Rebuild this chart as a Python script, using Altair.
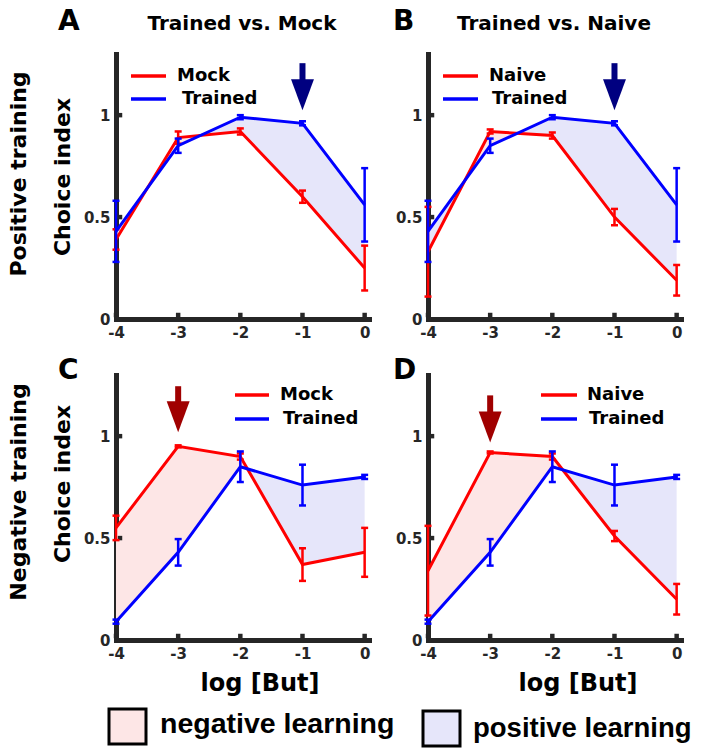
import altair as alt
import pandas as pd

# ---------------- data ----------------
X = [-4, -3, -2, -1, 0]

# Positive training
mock_pos = [0.39, 0.89, 0.92, 0.60, 0.25]
mock_pos_err = [0.05, 0.03, 0.015, 0.03, 0.11]
naive_pos = [0.33, 0.92, 0.90, 0.50, 0.19]
naive_pos_err = [0.22, 0.01, 0.015, 0.04, 0.075]
trained_pos = [0.43, 0.85, 0.99, 0.96, 0.56]
trained_pos_err = [0.15, 0.035, 0.01, 0.01, 0.18]

# Negative training
mock_neg = [0.55, 0.95, 0.90, 0.37, 0.43]
mock_neg_err = [0.06, 0.005, 0.015, 0.08, 0.12]
naive_neg = [0.34, 0.92, 0.90, 0.51, 0.20]
naive_neg_err = [0.22, 0.005, 0.015, 0.025, 0.075]
trained_neg = [0.09, 0.43, 0.85, 0.76, 0.80]
trained_neg_err = [0.01, 0.065, 0.075, 0.10, 0.01]

# arrows (x position, head centre, shaft top) per panel A, B, C, D
arrow_x = [-1, -1, -3, -3]
arrow_head = [1.10, 1.10, 1.095, 1.045]
arrow_top = [1.255, 1.255, 1.245, 1.20]

y_ticks = [0, 0.5, 1]
kinds = ["negative learning", "positive learning"]

# ---------------- styles ----------------
RED = "#ff0000"
BLUE = "#0000ff"
AXC = "#262626"
PINK = "#fde6e6"
LAV = "#e6e6fa"
NAVY = "#000080"
DRED = "#a00000"
FONT = "DejaVu Sans"
W, H = 253, 265

XS = alt.Scale(domain=[-4, 0.07], nice=False, zero=False)
YS = alt.Scale(domain=[0, 1.3], nice=False, zero=False)
XAX = alt.Axis(values=X, labelExpr="'' + datum.value", title=None, labelFlush=False)
YAX = alt.Axis(values=y_ticks, labelExpr="'' + datum.value", title=None)

one = pd.DataFrame({"k": [0]})


def xenc():
    return alt.X("x:Q", scale=XS, axis=XAX)


def yenc(field):
    return alt.Y(field, scale=YS, axis=YAX)


def txt(s, x, y, size, align="left", baseline="middle", angle=0, font=FONT):
    kw = dict(align=align, baseline=baseline, font=font, fontSize=size,
              fontWeight="bold", color="black")
    if angle:
        kw["angle"] = angle
    return alt.Chart(one).mark_text(**kw).encode(
        x=alt.value(x), y=alt.value(y), text=alt.value(s))


def series_layers(vals, errs, color):
    df = pd.DataFrame({
        "x": X, "v": vals,
        "lo": [v - e for v, e in zip(vals, errs)],
        "hi": [v + e for v, e in zip(vals, errs)],
    })
    base = alt.Chart(df)
    line = base.mark_line(color=color, strokeWidth=3).encode(x=xenc(), y=yenc("v:Q"))
    bar = base.mark_rule(color=color, strokeWidth=2.5).encode(
        x=xenc(), y=yenc("lo:Q"), y2="hi:Q")
    caps = base.transform_fold(["lo", "hi"], as_=["end", "yy"]).mark_tick(
        orient="horizontal", color=color, size=7, thickness=2.5, opacity=1
    ).encode(x=xenc(), y=yenc("yy:Q"))
    return [line, bar, caps]


def fill_df(red, blue):
    def typ(d):
        return kinds[1] if d > 0 else kinds[0]
    rows = []
    g = 0
    cur = typ(blue[0] - red[0])
    rows.append(dict(x=X[0], lo=red[0], hi=blue[0], g=g, kind=cur))
    for i in range(len(X) - 1):
        d0 = blue[i] - red[i]
        d1 = blue[i + 1] - red[i + 1]
        if d0 * d1 < 0:
            t = d0 / (d0 - d1)
            xc = X[i] + t * (X[i + 1] - X[i])
            yc = red[i] + t * (red[i + 1] - red[i])
            rows.append(dict(x=xc, lo=yc, hi=yc, g=g, kind=cur))
            g += 1
            cur = typ(d1)
            rows.append(dict(x=xc, lo=yc, hi=yc, g=g, kind=cur))
        rows.append(dict(x=X[i + 1], lo=red[i + 1], hi=blue[i + 1], g=g, kind=cur))
    return pd.DataFrame(rows)


def panel(idx, red, red_err, blue, blue_err, red_name, letter, arrow_color,
          letter_xy, legend_xy, extra):
    fdf = fill_df(red, blue)
    fill = alt.Chart(fdf).mark_area(interpolate="linear", opacity=1).encode(
        x=xenc(), y=yenc("lo:Q"), y2="hi:Q", detail="g:N",
        color=alt.Color("kind:N", scale=alt.Scale(domain=kinds, range=[PINK, LAV]),
                        legend=None))

    tdf = pd.DataFrame({"x": X, "y0": [0] * len(X)})
    xbumps = alt.Chart(tdf).mark_point(shape="square", filled=True, size=20,
                                       color=AXC, opacity=1, yOffset=-4).encode(
        x=xenc(), y=yenc("y0:Q"))
    ydf = pd.DataFrame({"x": [X[0]] * 2, "yt": y_ticks[1:]})
    ybumps = alt.Chart(ydf).mark_point(shape="square", filled=True, size=20,
                                       color=AXC, opacity=1, xOffset=4).encode(
        x=xenc(), y=yenc("yt:Q"))

    adf = pd.DataFrame({"x": [arrow_x[idx]], "head": [arrow_head[idx]],
                        "top": [arrow_top[idx]]})
    shaft = alt.Chart(adf).mark_rule(color=arrow_color, strokeWidth=6).encode(
        x=xenc(), y=yenc("head:Q"), y2="top:Q")
    head = alt.Chart(adf).mark_point(shape="M -0.74 -1 L 0.74 -1 L 0 1 Z",
                                     filled=True, size=961, color=arrow_color,
                                     opacity=1, strokeWidth=0).encode(
        x=xenc(), y=yenc("head:Q"))

    lx0, lx1, ly0, ly1, tx0, tx1 = legend_xy
    leg = [
        alt.Chart(one).mark_rule(color=RED, strokeWidth=3.5).encode(
            x=alt.value(lx0), x2=alt.value(lx1), y=alt.value(ly0)),
        alt.Chart(one).mark_rule(color=BLUE, strokeWidth=3.5).encode(
            x=alt.value(lx0), x2=alt.value(lx1), y=alt.value(ly1)),
        txt(red_name, tx0, ly0, 18),
        txt("Trained", tx1, ly1, 18),
    ]
    layers = [fill, xbumps, ybumps]
    layers += series_layers(red, red_err, RED)
    layers += series_layers(blue, blue_err, BLUE)
    layers += [shaft, head] + leg
    layers.append(txt(letter, letter_xy[0], letter_xy[1], 28, baseline="alphabetic"))
    layers += extra
    return alt.layer(*layers).properties(width=W, height=H)


A = panel(0, mock_pos, mock_pos_err, trained_pos, trained_pos_err, "Mock", "A", NAVY,
          (-58, -24), (15, 50, 22, 45, 61, 66),
          [txt("Trained vs. Mock", 126, -24, 20, align="center", baseline="alphabetic"),
           txt("Positive training", -97, 120, 22, align="center", angle=270),
           txt("Choice index", -53, 123, 22, align="center", angle=270)])

B = panel(1, naive_pos, naive_pos_err, trained_pos, trained_pos_err, "Naive", "B", NAVY,
          (-35, -24), (15, 50, 22, 45, 61, 64),
          [txt("Trained vs. Naive", 126, -24, 20, align="center", baseline="alphabetic")])

bottom_legend = [
    alt.Chart(one).mark_rect(fill=PINK, stroke="black", strokeWidth=3).encode(
        x=alt.value(-7), x2=alt.value(30), y=alt.value(334), y2=alt.value(369)),
    txt(kinds[0], 44, 358, 28.5, baseline="alphabetic", font="Liberation Sans"),
    alt.Chart(one).mark_rect(fill=LAV, stroke="black", strokeWidth=3).encode(
        x=alt.value(307), x2=alt.value(344), y=alt.value(336), y2=alt.value(371)),
    txt(kinds[1], 357, 362, 27.5, baseline="alphabetic", font="Liberation Sans"),
]

C = panel(2, mock_neg, mock_neg_err, trained_neg, trained_neg_err, "Mock", "C", DRED,
          (-58, 4), (119, 153, 20, 44, 164, 167),
          [txt("Negative training", -97, 117, 22, align="center", angle=270),
           txt("Choice index", -53, 109, 22, align="center", angle=270),
           txt("log [But]", 144, 316, 24, align="center", baseline="alphabetic")]
          + bottom_legend)

D = panel(3, naive_neg, naive_neg_err, trained_neg, trained_neg_err, "Naive", "D", DRED,
          (-35, 4), (113, 149, 20, 44, 159, 161),
          [txt("log [But]", 150, 316, 24, align="center", baseline="alphabetic")])

chart = alt.concat(
    A, B, C, D, columns=2,
    spacing=alt.RowColnumber(row=56, column=59), bounds="flush"
).properties(
    padding={"left": 0, "top": 0, "right": 0, "bottom": 0}
).configure_view(stroke=None).configure_axis(
    domainColor=AXC, domainWidth=5, domainCap="square", ticks=False, tickSize=0,
    grid=False, labelFont=FONT, labelFontSize=15, labelFontWeight="bold",
    labelColor=AXC, labelPadding=6
)

chart.save("out.html", embed_options={"renderer": "svg", "actions": False})
